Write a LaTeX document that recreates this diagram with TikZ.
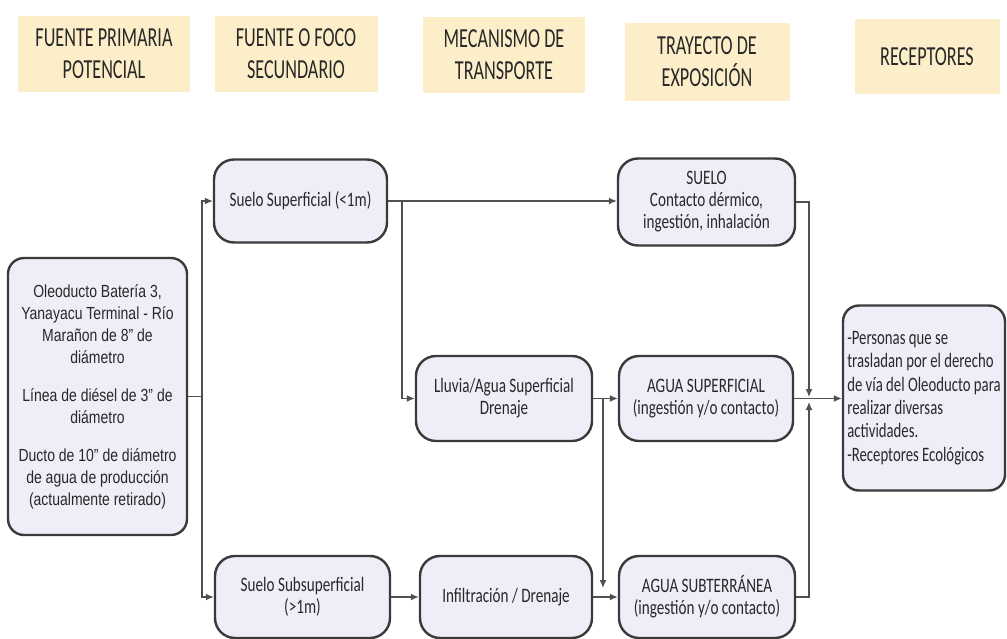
\documentclass[tikz,border=0pt]{standalone}
\usepackage{fontspec}
\setmainfont{Carlito}
\newfontfamily\boxfont[FakeStretch=0.74]{Carlito}
\newfontfamily\recfont[FakeStretch=0.72]{Carlito}
\newfontfamily\hdrfont[FakeStretch=0.66]{Carlito}
\newfontfamily\srcfont[FakeStretch=0.8]{Liberation Sans}
\usetikzlibrary{arrows.meta}

\newlength{\du}
\setlength{\du}{1pt}

\definecolor{hdrfill}{RGB}{252,238,200}
\definecolor{boxfill}{RGB}{238,238,249}
\definecolor{boxline}{RGB}{58,58,58}
\definecolor{linkline}{RGB}{80,80,80}
\definecolor{inkgray}{RGB}{40,40,40}

\tikzset{
  hdr/.style={fill=hdrfill, draw=none, align=center, inner sep=0pt, text=inkgray,
    font=\hdrfont\fontsize{27.5}{32}\selectfont},
  stage/.style={draw=boxline, line width=2.4\du, fill=boxfill, rounded corners=20\du,
    align=center, inner sep=0pt, text=inkgray, font=\boxfont\fontsize{20.5}{22}\selectfont},
  link/.style={draw=linkline, line width=1.3\du},
  arr/.style={link, -{Latex[length=8pt,width=7pt]}}
}

\begin{document}
\begin{tikzpicture}
\pgftransformxscale{1.000000}
\pgftransformyscale{-1.000000}
\useasboundingbox (0\du,0\du) rectangle (1007\du,639\du);
% column headers
\node[hdr, minimum width=172\du, minimum height=76\du] (h1) at (104\du,54\du){FUENTE PRIMARIA\\POTENCIAL};
\node[hdr, minimum width=163\du, minimum height=76\du] (h2) at (296\du,54\du){FUENTE O FOCO\\SECUNDARIO};
\node[hdr, minimum width=162\du, minimum height=76\du] (h3) at (504\du,55\du){MECANISMO DE\\TRANSPORTE};
\node[hdr, minimum width=165\du, minimum height=78\du] (h4) at (707\du,62\du){TRAYECTO DE\\EXPOSICIÓN};
\node[hdr, minimum width=145\du, minimum height=75\du] (h5) at (927\du,57\du){RECEPTORES};
% primary source
\node[stage, rounded corners=16\du, minimum width=179\du, minimum height=277\du,
  font=\srcfont\fontsize{17.5}{22}\selectfont] (src) at (97.5\du,396.5\du){Oleoducto Batería 3,\\Yanayacu Terminal - Río\\Marañon de 8” de\\diámetro\\[16pt]Línea de diésel de 3” de\\diámetro\\[16pt]Ducto de 10” de diámetro\\de agua de producción\\(actualmente retirado)};
% secondary sources
\node[stage, minimum width=173\du, minimum height=83\du] (ss) at (300.5\du,201\du){Suelo Superficial (<1m)};
\node[stage, minimum width=175\du, minimum height=82\du] (sub) at (302.5\du,597\du){Suelo Subsuperficial\\(>1m)};
% transport
\node[stage, minimum width=176\du, minimum height=85\du] (lluvia) at (504\du,398.5\du){Lluvia/Agua Superficial\\Drenaje};
\node[stage, minimum width=172\du, minimum height=82\du] (infil) at (506\du,597\du){Infiltración / Drenaje};
% exposure
\node[stage, minimum width=177\du, minimum height=87\du] (suelo) at (706.5\du,202\du){SUELO\\Contacto dérmico,\\ingestión, inhalación};
\node[stage, minimum width=174\du, minimum height=85\du] (aguasup) at (706\du,398.5\du){AGUA SUPERFICIAL\\(ingestión y/o contacto)};
\node[stage, minimum width=176\du, minimum height=82\du] (aguasub) at (707\du,597\du){AGUA SUBTERRÁNEA\\(ingestión y/o contacto)};
% receptors
\node[stage, rounded corners=16\du, minimum width=162\du, minimum height=185\du, align=left,
  font=\recfont\fontsize{20.5}{23.4}\selectfont] (rec) at (924\du,398\du){-Personas que se\\trasladan por el derecho\\de vía del Oleoducto para\\realizar diversas\\actividades.\\-Receptores Ecológicos};
% connectors
\coordinate (fork) at (202\du,396.5\du);
\coordinate (br1) at (402\du,201\du);
\coordinate (br2) at (603\du,398.5\du);
\coordinate (br2end) at (603\du,588\du);
\coordinate (mergeN) at (809\du,397\du);
\coordinate (mergeS) at (809\du,402\du);
\draw[arr] (src.east) -- (fork) |- (ss.west);
\draw[arr] (fork) |- (sub.west);
\draw[arr] (ss.east) -- (ss.east -| suelo.west);
\draw[arr] (br1) |- (lluvia.west);
\draw[arr] (lluvia.east) -- (aguasup.west);
\draw[arr] (br2) -- (br2end);
\draw[arr] (sub.east) -- (infil.west);
\draw[arr] (infil.east) -- (aguasub.west);
\draw[arr] (suelo.east) -| (mergeN);
\draw[arr] (aguasub.east) -| (mergeS);
\draw[arr] (aguasup.east) -- (aguasup.east -| rec.west);
\end{tikzpicture}
\end{document}
